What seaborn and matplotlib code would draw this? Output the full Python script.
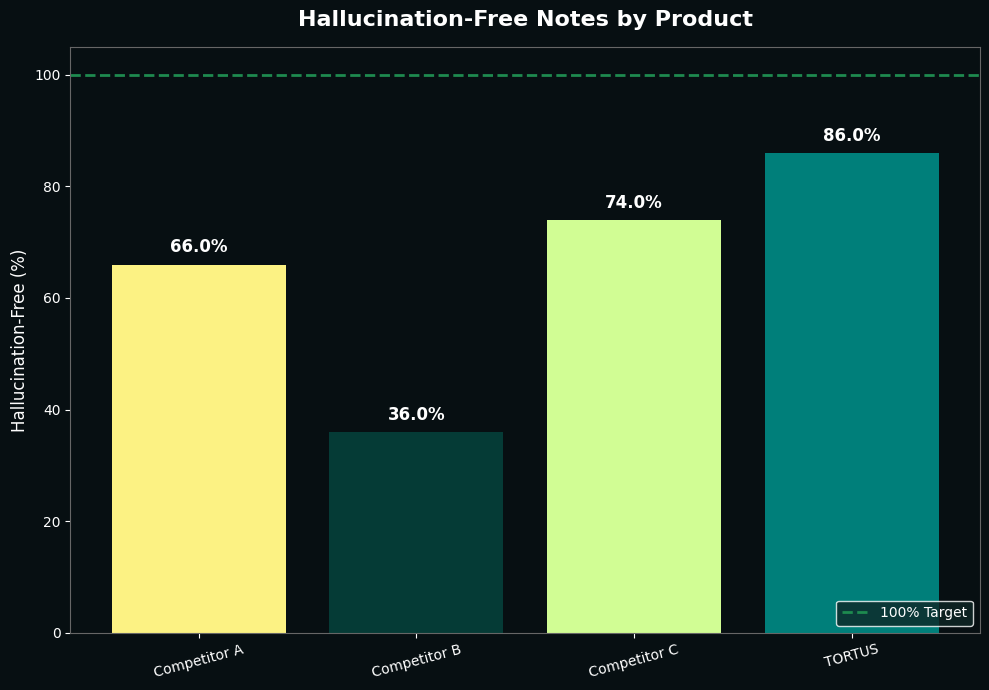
import matplotlib
matplotlib.use("Agg")
import matplotlib.pyplot as plt
import seaborn as sns
import pandas as pd

products = ["Competitor A", "Competitor B", "Competitor C", "TORTUS"]
hallucination_free = [66.0, 36.0, 74.0, 86.0]
bar_colors = ["#FCF283", "#053B36", "#D1FD94", "#007F7A"]
target = 100

bg = "#070F12"
sns.set_theme(style="dark")
plt.rcParams["font.family"] = ["DejaVu Sans"]

df = pd.DataFrame({"product": products, "value": hallucination_free})

fig, ax = plt.subplots(figsize=(9.89, 6.9), dpi=100)
fig.patch.set_facecolor(bg)
ax.set_facecolor(bg)

sns.barplot(data=df, x="product", y="value", hue="product", palette=bar_colors,
            width=0.8, saturation=1, legend=False, linewidth=0, ax=ax)

ax.axhline(target, color="#1E8A4F", linestyle="--", linewidth=2, label="100% Target")

for i, v in enumerate(hallucination_free):
    ax.text(i, v + 1.5, f"{v:.1f}%", ha="center", va="bottom", color="white",
            fontsize=12, fontweight="bold")

ax.set_ylim(0, 105)
ax.set_xlim(-0.59, 3.59)
ax.set_title("Hallucination-Free Notes by Product", color="white", fontsize=16,
             fontweight="bold", pad=15)
ax.set_ylabel("Hallucination-Free (%)", color="white", fontsize=12)
ax.set_xlabel("")
ax.tick_params(axis="both", colors="white", labelsize=10, length=3.5, width=0.8,
               left=True, bottom=True)
plt.setp(ax.get_xticklabels(), rotation=15)
for s in ax.spines.values():
    s.set_color("#666666")
    s.set_linewidth(0.8)
ax.grid(False)

leg = ax.legend(loc="lower right", facecolor="#0F2626", edgecolor="white", fontsize=10)
for t in leg.get_texts():
    t.set_color("white")

fig.subplots_adjust(left=0.071, right=0.991, top=0.932, bottom=0.083)
fig.savefig("out.png", facecolor=bg)
